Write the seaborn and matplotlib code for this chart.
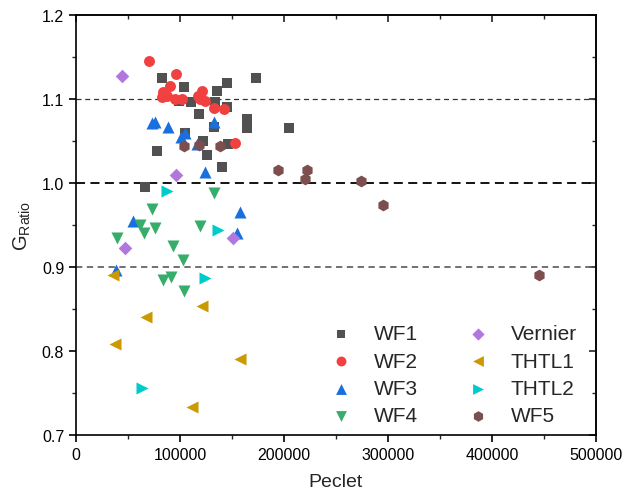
import pandas as pd
import numpy as np
import matplotlib
matplotlib.use("Agg")
import matplotlib.pyplot as plt
import seaborn as sns
from matplotlib.ticker import MultipleLocator

# datos (Peclet, G_Ratio)
wf1_x = [82400, 103800, 145200, 173400, 135600, 99400, 110200, 133700, 144900, 118600,
         164100, 164100, 204800, 133000, 104800, 122400, 146400, 78200, 126000, 140700, 66300]
wf1_y = [1.125, 1.114, 1.119, 1.125, 1.110, 1.098, 1.096, 1.096, 1.091, 1.082,
         1.076, 1.066, 1.066, 1.067, 1.060, 1.050, 1.046, 1.038, 1.033, 1.019, 0.995]

wf2_x = [70500, 96200, 90400, 84000, 82400, 87200, 95200, 101600, 117600, 120800,
         119200, 124000, 132700, 142600, 152900]
wf2_y = [1.145, 1.130, 1.116, 1.108, 1.102, 1.104, 1.100, 1.100, 1.104, 1.109,
         1.100, 1.098, 1.089, 1.088, 1.048]

wf3_x = [73000, 76000, 88800, 133000, 104800, 100600, 116000, 124000, 54500, 157700, 154500, 38500]
wf3_y = [1.071, 1.073, 1.067, 1.073, 1.060, 1.055, 1.046, 1.013, 0.955, 0.966, 0.940, 0.897]

wf4_x = [133000, 72800, 61500, 76000, 119200, 65400, 39100, 93600, 102600, 84000, 91300, 103800]
wf4_y = [0.988, 0.969, 0.950, 0.947, 0.949, 0.940, 0.935, 0.925, 0.908, 0.885, 0.888, 0.871]

vernier_x = [44500, 96200, 47100, 151300]
vernier_y = [1.127, 1.010, 0.923, 0.935]

thtl1_x = [35900, 120800, 67300, 37500, 157700, 111800]
thtl1_y = [0.890, 0.854, 0.841, 0.808, 0.790, 0.733]

thtl2_x = [87800, 136900, 124000, 63100]
thtl2_y = [0.990, 0.944, 0.887, 0.756]

wf5_x = [103800, 118600, 138500, 194500, 222400, 220200, 274000, 295500, 445500]
wf5_y = [1.044, 1.045, 1.044, 1.015, 1.015, 1.005, 1.002, 0.974, 0.890]

series = ["WF1", "WF2", "WF3", "WF4", "Vernier", "THTL1", "THTL2", "WF5"]
xs = [wf1_x, wf2_x, wf3_x, wf4_x, vernier_x, thtl1_x, thtl2_x, wf5_x]
ys = [wf1_y, wf2_y, wf3_y, wf4_y, vernier_y, thtl1_y, thtl2_y, wf5_y]

colores = {"WF1": "#515151", "WF2": "#F14040", "WF3": "#1A6FDF", "WF4": "#37AD6B",
           "Vernier": "#B177DE", "THTL1": "#CC9900", "THTL2": "#00CBCC", "WF5": "#7D4E4E"}
marcadores = {"WF1": "s", "WF2": "o", "WF3": "^", "WF4": "v",
              "Vernier": "D", "THTL1": "<", "THTL2": ">", "WF5": "h"}
tamanos = {"WF1": 50, "WF2": 62, "WF3": 75, "WF4": 75,
           "Vernier": 48, "THTL1": 75, "THTL2": 75, "WF5": 72}

datos = pd.concat([pd.DataFrame({"Peclet": x, "G": y, "serie": s})
                   for s, x, y in zip(series, xs, ys)], ignore_index=True)

sns.set_style("ticks")
plt.rcParams['font.family'] = ['Liberation Sans', 'DejaVu Sans']
plt.rcParams['mathtext.fontset'] = 'custom'
plt.rcParams['mathtext.rm'] = 'Liberation Sans'
plt.rcParams['mathtext.it'] = 'Liberation Sans:italic'

fig = plt.figure(figsize=(6.25, 5.02), dpi=100)
ax = fig.add_axes([0.1216, 0.1315, 0.832, 0.8365])

# lineas de referencia
ax.axhline(1.1, color="#333333", lw=0.9, ls=(0, (4, 3)), zorder=1)
ax.axhline(1.0, color="black", lw=1.3, ls=(0, (5, 3)), zorder=1)
ax.axhline(0.9, color="#666666", lw=1.3, ls=(0, (3.5, 2.5)), zorder=1)

for s in series:
    sub = datos[datos["serie"] == s]
    sns.scatterplot(data=sub, x="Peclet", y="G", marker=marcadores[s], color=colores[s],
                    s=tamanos[s], linewidth=0, label=s, ax=ax, zorder=3)

ax.set_xlim(0, 500000)
ax.set_ylim(0.7, 1.2)
ax.xaxis.set_major_locator(MultipleLocator(100000))
ax.xaxis.set_minor_locator(MultipleLocator(50000))
ax.yaxis.set_major_locator(MultipleLocator(0.1))
ax.yaxis.set_minor_locator(MultipleLocator(0.05))
ax.yaxis.set_major_formatter(matplotlib.ticker.FormatStrFormatter("%.1f"))

for sp in ax.spines.values():
    sp.set_linewidth(1.2)
    sp.set_color("black")

ax.tick_params(which="major", direction="out", length=5, width=1.2, labelsize=11.5, colors="black")
ax.tick_params(which="minor", direction="out", length=3, width=1.0)

# ticks espejo arriba y a la derecha (hacia dentro)
arriba = ax.secondary_xaxis("top")
arriba.xaxis.set_major_locator(MultipleLocator(100000))
arriba.xaxis.set_minor_locator(MultipleLocator(50000))
arriba.tick_params(which="major", direction="in", length=5, width=1.2, labeltop=False)
arriba.tick_params(which="minor", direction="in", length=3, width=1.0)
derecha = ax.secondary_yaxis("right")
derecha.yaxis.set_major_locator(MultipleLocator(0.1))
derecha.yaxis.set_minor_locator(MultipleLocator(0.05))
derecha.tick_params(which="major", direction="in", length=5, width=1.2, labelright=False)
derecha.tick_params(which="minor", direction="in", length=3, width=1.0)
for sec in (arriba, derecha):
    for sp in sec.spines.values():
        sp.set_linewidth(1.2)

ax.set_xlabel("Peclet", fontsize=14, labelpad=8)
ax.set_ylabel(r"G$_{\mathrm{Ratio}}$", fontsize=14.5, labelpad=6)

handles, labels = ax.get_legend_handles_labels()
ax.legend(handles, labels, ncol=2, frameon=False, loc="lower right", fontsize=15,
          handletextpad=0.55, columnspacing=1.9, labelspacing=0.4, markerscale=0.9,
          bbox_to_anchor=(0.991, -0.012), borderaxespad=0.3)

fig.savefig("out.png", dpi=100)
